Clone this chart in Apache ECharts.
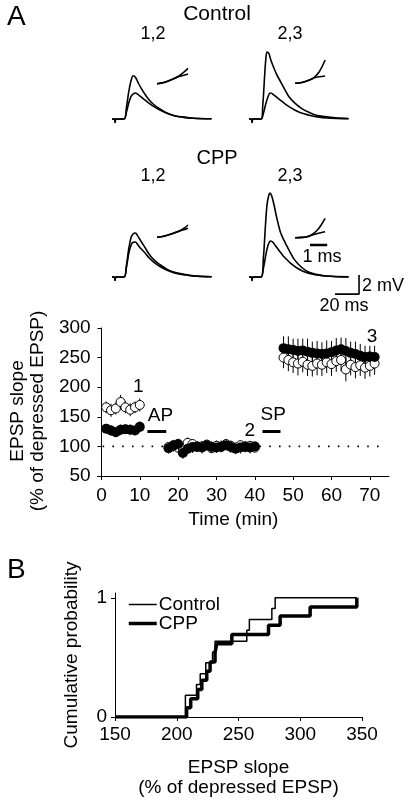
<!DOCTYPE html>
<html><head><meta charset="utf-8">
<script src="https://cdn.jsdelivr.net/npm/echarts@6/dist/echarts.min.js"></script>
<style>html,body{margin:0;padding:0;background:#fff;}#c{width:416px;height:800px;}</style>
</head><body><div id="c"></div>
<script>
// ---------- Panel A: time course ----------
const timeMin = [1.25,2.5,3.75,5,6.25,7.5,8.75,10,
  17.5,18.75,20,21.25,22.5,23.75,25,26.25,27.5,28.75,30,31.25,32.5,33.75,35,36.25,37.5,38.75,40,
  47.5,48.75,50,51.25,52.5,53.75,55,56.25,57.5,58.75,60,61.25,62.5,63.75,65,66.25,67.5,68.75,70,71.25];
const controlMean = [166,161,164,175,166,162,166,170,
  99,102,98,96,106,104,99,100,103,97,101,99,104,101,98,102,99,101,98,
  250,246,242,240,243,238,236,240,238,242,239,244,246,230,238,234,237,233,236,240];
const controlSem = [10,11,10,12,10,11,10,11,
  8,8,9,8,9,8,8,9,8,8,9,8,8,9,8,8,9,8,8,
  18,19,18,20,18,19,18,20,19,18,20,18,19,20,18,19,18,19,18,19];
const cppMean = [130,127,124,128,129,128,127,133,
  97,101,104,89,96,99,100,98,102,99,98,100,102,99,96,98,100,98,100,
  266,264,263,261,262,260,258,257,256,257,259,262,264,261,258,256,253,251,252,251];
const cppSem = [8,9,8,9,8,9,8,9,
  9,10,9,10,9,10,9,10,9,10,9,10,9,10,9,10,9,10,9,
  20,22,19,21,20,22,19,21,20,22,19,21,20,22,19,21,20,19,18,19];
const timeTicks = [0,10,20,30,40,50,60,70];
const baselineValue = 100;
const apBar = [12.0, 16.9], spBar = [42.0, 46.7], barLevel = 125;
const annotTexts = ['1','AP','2','SP','3'];
const annotT = [9.6,15.4,38.7,44.8,70.6];
const annotV = [200,152,127,153,285];

// ---------- EPSP traces (ms, mV) ----------
const c12T = [0,2,2.6,3.2,10,12,14,16,17.7,19.5,21.5,24,27,31,35,40,46,52,59,68,83];
const c12Big = [0,0,-0.35,0,0,1.2,2.9,4.1,4.56,4.4,3.9,3.3,2.7,2.0,1.5,1.05,0.6,0.35,0.2,0.08,0.02];
const c12Small = [0,0,-0.35,0,0,0.7,1.7,2.4,2.65,2.74,2.6,2.35,2.05,1.65,1.3,0.95,0.6,0.35,0.2,0.08,0.02];
const c23BigT = [0,2,2.6,3.2,10,11.5,13,14,15,16.5,18,20,23,26,29,33,38,44,50,56,63,72,83];
const c23Big = [0,0,-0.35,0,0,1.5,4.5,6.3,7.05,6.9,6.3,5.6,4.7,4.0,3.3,2.4,1.7,1.1,0.7,0.4,0.25,0.12,0.05];
const c23SmallT = [0,2,2.6,3.2,10,12,14,16,17.5,19,21,24,27,30,34,38,43,50,57,65,83];
const c23Small = [0,0,-0.35,0,0,0.6,1.6,2.4,2.74,2.7,2.5,2.2,1.9,1.6,1.25,0.95,0.65,0.4,0.22,0.1,0.02];
const p12Big = [0,0,-0.35,0,0,1.2,3.0,4.2,4.55,4.63,4.3,3.8,3.2,2.4,1.8,1.3,0.8,0.5,0.3,0.12,0.03];
const p12Small = [0,0,-0.35,0,0,1.0,2.5,3.4,3.65,3.68,3.4,3.0,2.6,2.0,1.55,1.1,0.7,0.42,0.25,0.1,0.02];
const p23BigT = [0,2,2.6,3.2,10,12,13.5,15,16.5,17.5,19,21,23,26,29,33,38,44,50,57,65,83];
const p23Big = [0,0,-0.35,0,0,2.0,5.0,7.6,8.6,8.84,8.5,7.5,6.3,4.8,3.9,2.9,1.8,1.0,0.5,0.25,0.1,0.02];
const p23SmallT = [0,2,2.6,3.2,10,12,14,16,18,20,22,25,28,31,35,40,46,53,60,70,83];
const p23Small = [0,0,-0.35,0,0,0.9,2.3,3.4,3.79,3.65,3.3,2.8,2.3,1.9,1.4,0.95,0.55,0.3,0.15,0.05,0];
// insets (ms, arbitrary units)
const insC12T = [0,0.4,0.8,1.2,1.5,1.8];
const insC12A = [0.03,0.15,0.4,0.72,1.1,1.57];
const insC12B = [0.03,0.15,0.4,0.7,0.85,1.0];
const insC23T = [0,0.4,0.85,1.1,1.4,1.75];
const insC23A = [0.07,0.15,0.4,0.65,1.2,2.4];
const insC23B = [0.07,0.15,0.4,0.6,0.72,0.8];
const insP12T = [0,0.4,0.95,1.25,1.55,1.8];
const insP12A = [0.07,0.17,0.47,0.68,0.95,1.3];
const insP12B = [0.07,0.17,0.47,0.66,0.82,0.97];
const insP23T = [0,0.4,0.7,1.0,1.3,1.5,1.75];
const insP23A = [0.03,0.06,0.13,0.35,0.8,1.25,1.97];
const insP23B = [0.03,0.06,0.13,0.3,0.45,0.53,0.63];
// scale bars
const scaleMs = 20, scaleMv = 2, scaleInsetMs = 1;

// ---------- Panel B: cumulative distributions ----------
const controlSlopes = [207,207,216,219,223.5,229,231,256.7,258.8,277,279.7];
const cppSlopes = [208,211.3,217,220.3,224.3,227,231,232.4,244.6,274.3,283.7,308,345.8];
const cdfTicks = [150,200,250,300,350];

const FONT = '"Liberation Sans", Arial, sans-serif';
const K = '#000';
const zip = (a, b) => a.map((v, i) => [v, b[i]]);
function ecdf(vals, start, end) {
  const n = vals.length, out = [[start, 0]];
  vals.forEach((v, i) => out.push([v, (i + 1) / n]));
  if (end > vals[n - 1]) out.push([end, 1]);
  return out;
}
function errRender(params, api) {
  const x = api.value(0), lo = api.value(1), hi = api.value(2);
  const p1 = api.coord([x, lo]), p2 = api.coord([x, hi]);
  return {type: 'line', shape: {x1: p1[0], y1: p1[1], x2: p2[0], y2: p2[1]},
    style: {stroke: K, lineWidth: 1}};
}
const hidden = {show: false};
const grids = [
  {left: 92, top: 328, width: 297, height: 148},   // 0 time course
  {left: 115, top: 593, width: 247, height: 124},  // 1 CDF
  {left: 112, top: 24, width: 120, height: 114},   // 2 ctrl 1,2
  {left: 249, top: 24, width: 120, height: 114},   // 3 ctrl 2,3
  {left: 112, top: 182, width: 120, height: 114},  // 4 cpp 1,2
  {left: 249, top: 182, width: 120, height: 114},  // 5 cpp 2,3
  {left: 157, top: 59, width: 31, height: 25},     // 6 inset
  {left: 295, top: 59, width: 31, height: 25},     // 7
  {left: 157, top: 213, width: 31, height: 25},    // 8
  {left: 295, top: 213, width: 31, height: 25}     // 9
];
const axLine = {show: true, lineStyle: {color: K, width: 1}};
const xAxes = [
  {gridIndex: 0, type: 'value', min: -1, max: 75, axisLine: axLine,
   axisTick: {length: 4, lineStyle: {color: K}, customValues: timeTicks},
   axisLabel: {customValues: timeTicks, color: K, fontSize: 19, fontFamily: FONT, margin: 10},
   splitLine: hidden, name: 'Time (min)', nameLocation: 'middle', nameGap: 34,
   nameTextStyle: {color: K, fontSize: 19, fontFamily: FONT, padding: [0, 20, 0, 0]}},
  {gridIndex: 1, type: 'value', min: 150, max: 350, interval: 50, axisLine: axLine,
   axisTick: {length: 4, lineStyle: {color: K}},
   axisLabel: {color: K, fontSize: 19, fontFamily: FONT, margin: 8},
   splitLine: hidden, name: 'EPSP slope\n(% of depressed EPSP)', nameLocation: 'middle', nameGap: 41,
   nameTextStyle: {color: K, fontSize: 19, fontFamily: FONT, lineHeight: 20}}
];
const yAxes = [
  {gridIndex: 0, type: 'value', min: 50, max: 300, interval: 50, axisLine: axLine,
   axisTick: {length: 4, lineStyle: {color: K}},
   axisLabel: {color: K, fontSize: 19, fontFamily: FONT, margin: 7},
   splitLine: hidden, name: 'EPSP slope\n(% of depressed EPSP)', nameLocation: 'middle', nameGap: 46,
   nameTextStyle: {color: K, fontSize: 19, fontFamily: FONT, lineHeight: 20, padding: [0, 18, 0, 0]}},
  {gridIndex: 1, type: 'value', min: 0, max: 1.04, axisLine: axLine,
   axisTick: {length: 4, lineStyle: {color: K}, customValues: [0, 1]},
   axisLabel: {customValues: [0, 1], color: K, fontSize: 19, fontFamily: FONT, margin: 8},
   splitLine: hidden, name: 'Cumulative probability', nameLocation: 'middle', nameGap: 34,
   nameTextStyle: {color: K, fontSize: 19, fontFamily: FONT}}
];
for (let g = 2; g <= 5; g++) {
  xAxes.push({gridIndex: g, type: 'value', min: 0, max: 100, show: false});
  yAxes.push({gridIndex: g, type: 'value', min: -2, max: 10, show: false});
}
for (let g = 6; g <= 9; g++) {
  xAxes.push({gridIndex: g, type: 'value', min: 0, max: 1.8, show: false});
  yAxes.push({gridIndex: g, type: 'value', min: 0, max: 2.5, show: false});
}
function trace(idx, t, v, w) {
  return {type: 'line', xAxisIndex: idx, yAxisIndex: idx, data: zip(t, v), symbol: 'none',
    smooth: 0.35, clip: false, silent: true, lineStyle: {color: K, width: w || 1.6}};
}
const errData = (m, s) => timeMin.map((t, i) => [t, m[i] - s[i], m[i] + s[i]]);
const series = [
  {type: 'line', xAxisIndex: 0, yAxisIndex: 0, data: [[0.3, baselineValue], [73, baselineValue]],
   symbol: 'none', lineStyle: {color: K, width: 1.6, type: [1.6, 8.2]}},
  {type: 'custom', xAxisIndex: 0, yAxisIndex: 0, renderItem: errRender, data: errData(controlMean, controlSem)},
  {type: 'scatter', xAxisIndex: 0, yAxisIndex: 0, data: zip(timeMin, controlMean), symbol: 'circle', symbolSize: 9,
   itemStyle: {color: '#fff', borderColor: K, borderWidth: 1, opacity: 1}},
  {type: 'custom', xAxisIndex: 0, yAxisIndex: 0, renderItem: errRender, data: errData(cppMean, cppSem)},
  {type: 'scatter', xAxisIndex: 0, yAxisIndex: 0, data: zip(timeMin, cppMean), symbol: 'circle', symbolSize: 10,
   itemStyle: {color: K, opacity: 1}},
  {type: 'line', xAxisIndex: 0, yAxisIndex: 0, data: [[apBar[0], barLevel], [apBar[1], barLevel]],
   symbol: 'none', lineStyle: {color: K, width: 3}},
  {type: 'line', xAxisIndex: 0, yAxisIndex: 0, data: [[spBar[0], barLevel], [spBar[1], barLevel]],
   symbol: 'none', lineStyle: {color: K, width: 3}},
  {type: 'scatter', xAxisIndex: 0, yAxisIndex: 0, symbolSize: 1, itemStyle: {opacity: 0},
   data: annotTexts.map((s, i) => ({name: s, value: [annotT[i], annotV[i]]})),
   label: {show: true, position: 'inside', formatter: '{b}', color: K, opacity: 1, fontSize: 19, fontFamily: FONT}},
  // CDF
  {name: 'Control', type: 'line', xAxisIndex: 1, yAxisIndex: 1, step: 'end', symbol: 'none',
   data: ecdf(controlSlopes, 150, 345.8), lineStyle: {color: K, width: 1.5}, itemStyle: {color: K}},
  {name: 'CPP', type: 'line', xAxisIndex: 1, yAxisIndex: 1, step: 'end', symbol: 'none',
   data: ecdf(cppSlopes, 150, 345.8), lineStyle: {color: K, width: 3.5}, itemStyle: {color: K}},
  // traces
  trace(2, c12T, c12Big), trace(2, c12T, c12Small),
  trace(3, c23BigT, c23Big), trace(3, c23SmallT, c23Small),
  trace(4, c12T, p12Big), trace(4, c12T, p12Small),
  trace(5, p23BigT, p23Big), trace(5, p23SmallT, p23Small),
  trace(6, insC12T, insC12A), trace(6, insC12T, insC12B),
  trace(7, insC23T, insC23A), trace(7, insC23T, insC23B),
  trace(8, insP12T, insP12A), trace(8, insP12T, insP12B),
  trace(9, insP23T, insP23A), trace(9, insP23T, insP23B),
  {type: 'line', xAxisIndex: 5, yAxisIndex: 5, symbol: 'none', clip: false,
   data: [[91.7 - scaleMs, -1.8], [91.7, -1.8], [91.7, -1.8 + scaleMv]], lineStyle: {color: K, width: 1.6}},
  {type: 'line', xAxisIndex: 9, yAxisIndex: 9, symbol: 'none', clip: false,
   data: [[0.87, -0.7], [0.87 + scaleInsetMs, -0.7]], lineStyle: {color: K, width: 2.5}}
];
function txt(text, x, y, size, align) {
  return {type: 'text', x: x, y: y, style: {text: text, fill: K, font: size + 'px ' + FONT,
    textAlign: align || 'center', textVerticalAlign: 'middle'}};
}
const graphic = [
  txt('A', 7, 17, 28, 'left'),
  txt('Control', 217, 14, 21), txt('1,2', 153, 34, 18), txt('2,3', 290, 34, 18),
  txt('CPP', 217, 158, 20), txt('1,2', 153, 176, 18), txt('2,3', 290, 176, 18),
  txt('1 ms', 322, 257, 18), txt('2 mV', 362, 286, 18, 'left'), txt('20 ms', 344, 306, 18),
  txt('B', 7, 570, 28, 'left')
];
const chart = echarts.init(document.getElementById('c'), null, {renderer: 'canvas'});
chart.setOption({
  backgroundColor: '#fff', animation: false,
  textStyle: {fontFamily: FONT},
  grid: grids, xAxis: xAxes, yAxis: yAxes, series: series, graphic: graphic,
  legend: {data: [{name: 'Control', lineStyle: {width: 1.5}}, {name: 'CPP', lineStyle: {width: 3.5}}],
    orient: 'vertical', left: 122, top: 590, itemWidth: 28, itemHeight: 14,
    itemGap: 0, itemStyle: {opacity: 0},
    textStyle: {color: K, fontSize: 19, lineHeight: 14, fontFamily: FONT, padding: [0, 0, 0, -3]},
    selectedMode: false}
});
</script></body></html>
